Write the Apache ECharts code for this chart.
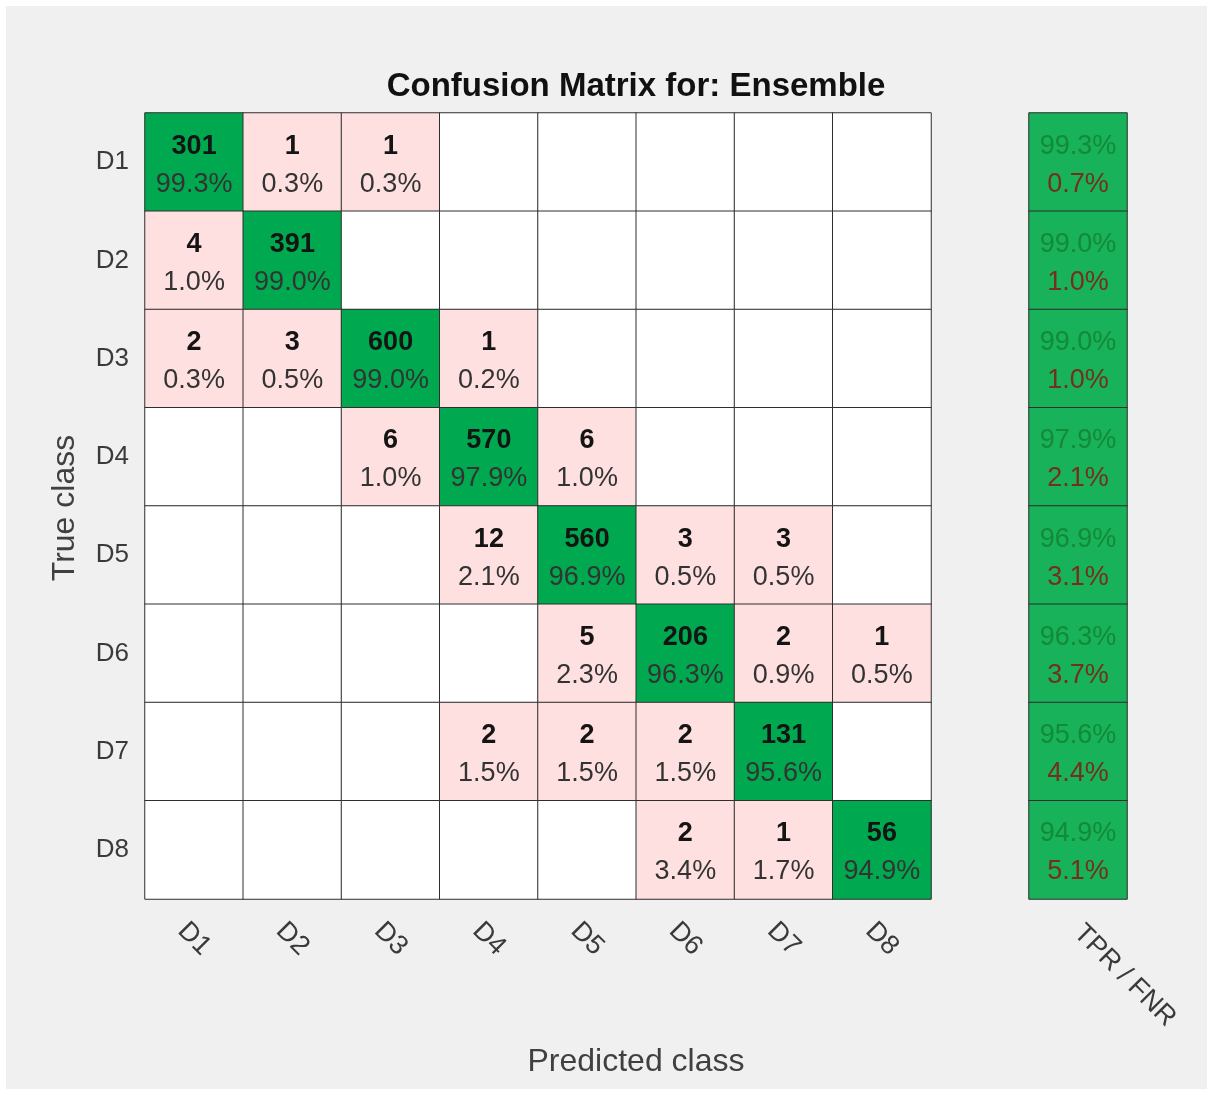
<!DOCTYPE html>
<html>
<head>
<meta charset="utf-8">
<title>Confusion Matrix</title>
<script src="https://cdn.jsdelivr.net/npm/echarts@6/dist/echarts.min.js"></script>
<style>
  html, body { margin: 0; padding: 0; background: #ffffff; }
  #chart {
    position: absolute;
    left: 6px;
    top: 6px;
    width: 1201px;
    height: 1083px;
    background: #f0f0f0;
  }
</style>
</head>
<body>
<div id="chart"></div>
<script>
// class names (rows = true class, columns = predicted class)
const classes = ['D1', 'D2', 'D3', 'D4', 'D5', 'D6', 'D7', 'D8']
const summaryLabel = ['TPR / FNR']

// counts
const counts = [
  [301, 1, 1, 0, 0, 0, 0, 0],
  [4, 391, 0, 0, 0, 0, 0, 0],
  [2, 3, 600, 1, 0, 0, 0, 0],
  [0, 0, 6, 570, 6, 0, 0, 0],
  [0, 0, 0, 12, 560, 3, 3, 0],
  [0, 0, 0, 0, 5, 206, 2, 1],
  [0, 0, 0, 2, 2, 2, 131, 0],
  [0, 0, 0, 0, 0, 2, 1, 56]
]

const FONT = '"Liberation Sans", Arial, Helvetica, sans-serif'
const GREEN = '#00a94f'
const GREEN_SUM = '#17b25a'
const PINK = '#ffe0e0'

const rowSums = counts.map(r => r.reduce((a, b) => a + b, 0))

const cells = []
counts.forEach((row, i) => {
  row.forEach((c, j) => {
    cells.push({
      value: [j, i, c],
      itemStyle: { color: c === 0 ? '#ffffff' : (i === j ? GREEN : PINK) },
      label: { show: c > 0 }
    })
  })
})

const summaryCells = counts.map((row, i) => ({
  value: [0, i, row[i] / rowSums[i]],
  itemStyle: { color: GREEN_SUM }
}))

const chart = echarts.init(document.getElementById('chart'))

const cellBorder = { borderColor: '#2e2e2e', borderWidth: 1 }

const option = {
  backgroundColor: 'transparent',
  textStyle: { fontFamily: FONT },
  animation: false,
  grid: [
    { left: 139, top: 107, width: 786, height: 786 },
    { left: 1023, top: 107, width: 98, height: 786 }
  ],
  xAxis: [
    {
      gridIndex: 0,
      type: 'category',
      data: classes,
      position: 'bottom',
      axisLine: { show: false },
      axisTick: { show: false },
      splitLine: { show: false },
      axisLabel: {
        rotate: -45,
        align: 'center',
        verticalAlign: 'middle',
        margin: 40,
        fontSize: 27,
        color: '#3a3a3a',
        fontFamily: FONT
      }
    },
    {
      gridIndex: 1,
      type: 'category',
      data: summaryLabel,
      axisLine: { show: false },
      axisTick: { show: false },
      axisLabel: {
        rotate: -45,
        margin: 30,
        fontSize: 27,
        color: '#3a3a3a',
        fontFamily: FONT
      }
    }
  ],
  yAxis: [
    {
      gridIndex: 0,
      type: 'category',
      data: classes,
      inverse: true,
      axisLine: { show: false },
      axisTick: { show: false },
      axisLabel: {
        margin: 16,
        fontSize: 26,
        lineHeight: 30,
        padding: [4, 0, 0, 0],
        color: '#3a3a3a',
        fontFamily: FONT
      }
    },
    {
      gridIndex: 1,
      type: 'category',
      data: classes,
      inverse: true,
      axisLine: { show: false },
      axisTick: { show: false },
      axisLabel: { show: false }
    }
  ],
  series: [
    {
      type: 'heatmap',
      xAxisIndex: 0,
      yAxisIndex: 0,
      data: cells,
      itemStyle: cellBorder,
      emphasis: { disabled: true },
      label: {
        show: true,
        offset: [0, 3],
        formatter: p => {
          const c = p.value[2]
          const pct = (c / rowSums[p.value[1]] * 100).toFixed(1) + '%'
          return '{c|' + c + '}\n{p|' + pct + '}'
        },
        rich: {
          c: { fontSize: 27, fontWeight: 'bold', color: '#141414', lineHeight: 38, fontFamily: FONT },
          p: { fontSize: 27, color: '#333333', lineHeight: 38, fontFamily: FONT }
        }
      }
    },
    {
      type: 'heatmap',
      xAxisIndex: 1,
      yAxisIndex: 1,
      data: summaryCells,
      itemStyle: cellBorder,
      emphasis: { disabled: true },
      label: {
        show: true,
        offset: [0, 3],
        formatter: p => {
          const tpr = p.value[2] * 100
          return '{t|' + tpr.toFixed(1) + '%}\n{f|' + (100 - tpr).toFixed(1) + '%}'
        },
        rich: {
          t: { fontSize: 27, color: '#148a36', lineHeight: 38, fontFamily: FONT },
          f: { fontSize: 27, color: '#74301a', lineHeight: 38, fontFamily: FONT }
        }
      }
    }
  ],
  graphic: [
    {
      type: 'text',
      x: 630,
      y: 81,
      style: {
        text: 'Confusion Matrix for: Ensemble',
        font: 'bold 33px ' + FONT,
        fill: '#111111',
        textAlign: 'center',
        textVerticalAlign: 'middle'
      }
    },
    {
      type: 'text',
      x: 630,
      y: 1056,
      style: {
        text: 'Predicted class',
        font: '32px ' + FONT,
        fill: '#404040',
        textAlign: 'center',
        textVerticalAlign: 'middle'
      }
    },
    {
      type: 'text',
      x: 59,
      y: 502,
      rotation: Math.PI / 2,
      style: {
        text: 'True class',
        font: '32px ' + FONT,
        fill: '#404040',
        textAlign: 'center',
        textVerticalAlign: 'middle'
      }
    }
  ]
}

chart.setOption(option)

window.addEventListener('resize', () => {
  chart.resize()
})
</script>
</body>
</html>
